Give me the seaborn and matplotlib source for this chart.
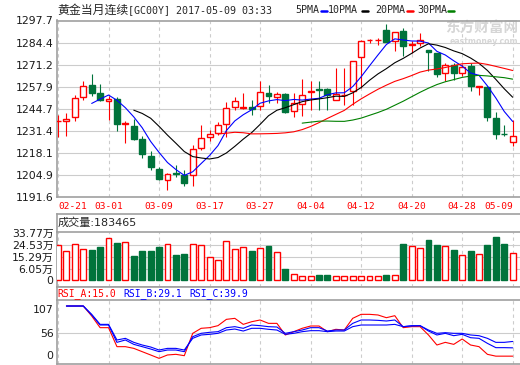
import numpy as np
import pandas as pd
import seaborn as sns
import matplotlib.pyplot as plt
from matplotlib.lines import Line2D

# 黄金当月连续 日K
dates = ['02-21', '03-01', '03-09', '03-17', '03-27', '04-04', '04-12', '04-20', '04-28', '05-09']
opens = [1236.9, 1237.4, 1239.6, 1251.5, 1259.1, 1254.1, 1249.5, 1250.7, 1235.5, 1234.4,
         1226.4, 1216.3, 1208.3, 1201.8, 1205.8, 1204.6, 1204.9, 1221.0, 1227.6, 1230.0,
         1235.4, 1245.7, 1245.3, 1245.7, 1246.0, 1254.1, 1251.7, 1253.7, 1243.0, 1247.7,
         1254.6, 1256.3, 1256.5, 1250.1, 1252.8, 1255.1, 1275.6, 1286.0, 1286.0, 1291.9,
         1285.2, 1291.2, 1283.1, 1284.3, 1280.2, 1278.2, 1266.2, 1270.8, 1265.8, 1270.2,
         1257.9, 1257.9, 1239.0, 1229.6, 1224.5]
highs = [1241.0, 1242.1, 1253.1, 1261.5, 1265.7, 1259.7, 1252.5, 1251.9, 1237.1, 1238.4,
         1228.0, 1218.9, 1209.5, 1205.9, 1210.9, 1207.9, 1222.6, 1235.0, 1232.0, 1236.4,
         1248.4, 1251.7, 1254.1, 1250.1, 1261.5, 1259.1, 1254.7, 1254.1, 1254.1, 1262.6,
         1261.1, 1261.1, 1257.1, 1269.2, 1269.2, 1273.6, 1285.8, 1286.8, 1287.3, 1295.3,
         1290.6, 1293.3, 1285.2, 1290.3, 1280.2, 1278.2, 1272.2, 1272.2, 1271.6, 1272.2,
         1258.5, 1258.1, 1242.8, 1235.0, 1238.0]
lows = [1227.4, 1228.0, 1237.0, 1249.7, 1252.1, 1249.0, 1238.0, 1231.4, 1223.9, 1225.5,
        1214.9, 1207.9, 1201.4, 1195.4, 1203.7, 1197.9, 1197.8, 1219.5, 1224.9, 1229.0,
        1227.6, 1244.0, 1244.5, 1241.0, 1244.0, 1248.1, 1248.1, 1242.1, 1239.5, 1240.0,
        1244.0, 1244.0, 1244.0, 1250.1, 1247.1, 1247.1, 1257.1, 1284.3, 1282.7, 1284.6,
        1279.2, 1276.2, 1278.2, 1282.2, 1267.1, 1263.5, 1261.5, 1262.1, 1264.1, 1255.1,
        1253.1, 1237.0, 1226.3, 1228.4, 1221.9]
closes = [1237.1, 1238.4, 1251.1, 1258.1, 1254.1, 1250.1, 1250.7, 1235.3, 1235.7, 1226.4,
          1217.5, 1209.5, 1202.3, 1205.3, 1205.2, 1199.9, 1220.4, 1227.0, 1229.6, 1235.0,
          1245.1, 1249.5, 1245.6, 1244.5, 1254.7, 1252.1, 1253.5, 1242.4, 1248.1, 1252.8,
          1255.1, 1255.9, 1253.1, 1253.7, 1253.1, 1273.6, 1285.6, 1286.2, 1286.2, 1284.6,
          1290.6, 1282.2, 1283.2, 1285.8, 1278.8, 1265.6, 1271.2, 1265.8, 1269.8, 1258.1,
          1258.5, 1239.4, 1229.4, 1229.2, 1228.0]
# 成交量, 单位: 万
volumes = [24.5, 19.9, 25.3, 21.2, 20.7, 23.0, 29.7, 26.3, 26.6, 16.1,
           19.9, 19.9, 23.0, 25.1, 16.8, 17.6, 25.1, 24.3, 15.1, 12.8,
           27.4, 21.2, 22.8, 19.9, 22.0, 23.8, 19.2, 6.1, 2.0, 0.9,
           0.9, 1.2, 1.2, 0.9, 0.9, 0.9, 0.9, 0.9, 0.9, 1.5,
           1.2, 25.3, 23.5, 22.0, 28.4, 24.5, 23.5, 20.7, 16.6, 19.9,
           17.4, 24.5, 30.7, 25.3, 18.35]
nan = np.nan
rsi_a = [nan, 100, 100, 100, 83.1, 63.3, 63.3, 31.1, 31.1, 28.2, 22.6, 17.0, 11.3, 17.0,
         18.1, 15.8, 53.7, 62.2, 63.3, 66.7, 77.4, 79.1, 68.9, 73.4, 76.3, 70.6, 70.6,
         50.9, 56.5, 62.2, 66.1, 66.1, 56.5, 60.5, 59.3, 79.1, 85.9, 85.9, 84.8, 80.2,
         83.6, 63.3, 65.0, 65.0, 50.9, 33.9, 38.4, 35.0, 44.1, 33.9, 31.1, 18.1, 15.0,
         15.0, 15.0]
rsi_b = [nan, 100, 100, 100, 84.8, 67.8, 67.8, 38.4, 42.4, 35.0, 31.1, 27.1, 22.6, 25.4,
         25.4, 22.6, 48.0, 53.7, 55.4, 56.5, 63.3, 65.0, 62.2, 67.8, 66.7, 65.0, 64.4,
         53.7, 56.5, 59.3, 63.3, 63.3, 57.6, 59.3, 59.3, 70.6, 76.3, 76.3, 75.7, 74.6,
         76.3, 65.0, 66.1, 66.7, 57.6, 50.9, 53.7, 49.7, 52.0, 46.3, 45.2, 36.7, 29.4,
         29.4, 29.1]
rsi_c = [nan, 100, 100, 100, 85.9, 68.9, 68.9, 42.4, 45.2, 38.4, 33.9, 30.5, 25.4, 28.2,
         28.2, 25.4, 45.2, 50.9, 52.0, 53.7, 59.3, 61.0, 57.6, 62.2, 62.2, 60.5, 59.3,
         52.0, 53.7, 56.5, 58.2, 58.2, 56.5, 57.6, 57.6, 65.0, 67.8, 67.8, 67.8, 67.8,
         68.9, 65.0, 66.7, 66.7, 59.3, 53.7, 54.8, 53.7, 53.7, 50.9, 49.7, 45.2, 38.4,
         38.4, 39.9]
price_ticks = [1191.6, 1204.9, 1218.1, 1231.4, 1244.7, 1257.9, 1271.2, 1284.4, 1297.7]
vol_ticks = [6.05, 15.29, 24.53, 33.77]
vol_base = -2.4   # 东财的量柱画到面板底部, "0" 标在这里
rsi_tick_pos = [94.9, 53.7, 16.9]
rsi_tick_labels = ['107', '56', '0']

RED = '#ff0000'
GREEN = '#00733b'
GRID = '#cccccc'
EDGE = '#a0a0a0'
W, H = 520, 365

sns.set_style('white')
plt.rcParams['font.family'] = ['DejaVu Sans', 'Noto Sans CJK SC']

df = pd.DataFrame({'open': opens, 'high': highs, 'low': lows, 'close': closes, 'vol': volumes})
idx = np.arange(len(df))
up = df['close'] >= df['open']
line_col = np.where(up, RED, GREEN)
face_col = np.where(up, 'white', GREEN)

fig = plt.figure(figsize=(W / 100, H / 100), dpi=100)


def panel(top, bottom):
    return fig.add_axes([57 / W, 1 - bottom / H, 1 - 57 / W, (bottom - top) / H])


ax_k = panel(20.5, 196.7)
ax_vh = panel(214, 231.7)
ax_v = panel(231.7, 287.3)
ax_rh = panel(287.3, 300)
ax_r = panel(300, 364)

for ax in [ax_k, ax_vh, ax_v, ax_rh, ax_r]:
    ax.set_xlim(-0.12, 54.87)
    for s in ax.spines.values():
        s.set_color(EDGE)
        s.set_linewidth(1.2)
    ax.spines['right'].set_visible(False)
    ax.tick_params(length=0, pad=2.5, labelsize=7.8, labelcolor='#1a1a1a')
for ax in [ax_vh, ax_rh]:
    ax.spines['bottom'].set_visible(False)
    ax.set_xticks([])
    ax.set_yticks([])

# K线
ax_k.vlines(idx, df['low'], df['high'], colors=line_col, lw=0.8, zorder=2)
body = (df['close'] - df['open']).abs().clip(lower=0.25)
ax_k.bar(idx, body, bottom=df[['open', 'close']].min(axis=1), width=0.7,
         color=face_col, edgecolor=line_col, lw=1.0, zorder=3)

# 均线
for n, c in [(5, '#0000ff'), (10, 'black'), (20, RED), (30, '#008000')]:
    sns.lineplot(x=idx, y=df['close'].rolling(n).mean(), ax=ax_k, color=c, lw=0.8, zorder=4)

ax_k.set_ylim(1191.6, 1297.7)
ax_k.set_yticks(price_ticks, labels=[f'{t:.1f}' for t in price_ticks])
ax_k.set_xticks(range(0, 55, 6), labels=dates)
ax_k.tick_params(axis='x', pad=3.6, labelsize=6.8, labelcolor=RED)
for lbl in ax_k.get_xticklabels():
    lbl.set_fontfamily('DejaVu Sans Mono')
ax_k.get_xticklabels()[0].set_ha('left')
ax_k.get_xticklabels()[-1].set_ha('right')
ax_k.grid(axis='y', color=GRID, lw=0.8)
ax_k.grid(axis='x', color=GRID, lw=0.8, ls=(0, (3, 3)))
ax_k.set(xlabel='', ylabel='')

# 水印
ax_k.text(518 / W, 1 - 28 / H, '东方财富网', transform=fig.transFigure, fontsize=10.5,
          fontweight='bold', color='#d6d6d6', va='center', ha='right',
          family='Noto Sans CJK SC', zorder=1)
ax_k.text(518 / W, 1 - 41 / H, 'eastmoney.com', transform=fig.transFigure, fontsize=5.6,
          fontweight='bold', color='#d6d6d6', va='center', ha='right', zorder=1)

# 成交量
ax_v.bar(idx, df['vol'] - vol_base, bottom=vol_base, width=0.7,
         color=face_col, edgecolor=line_col, lw=1.0, zorder=3)
ax_v.set_ylim(-8.0, 34.8)
ax_v.set_yticks([vol_base] + vol_ticks, labels=['0'] + [f'{t:.2f}万' for t in vol_ticks])
for t in vol_ticks[:-1]:
    ax_v.axhline(t, color=GRID, lw=0.8, zorder=1)
ax_v.set_xticks(range(0, 55, 6), labels=[])
ax_v.grid(axis='x', color=GRID, lw=0.8, ls=(0, (3, 3)))

# RSI
for vals, c in [(rsi_a, RED), (rsi_b, '#0000ff'), (rsi_c, '#0000ff')]:
    sns.lineplot(x=idx, y=vals, ax=ax_r, color=c, lw=0.8, zorder=3)
ax_r.set_ylim(1.7, 110.2)
ax_r.set_yticks(rsi_tick_pos, labels=rsi_tick_labels)
ax_r.axhline(rsi_tick_pos[1], color=GRID, lw=0.8, zorder=1)
ax_r.set_xticks(range(0, 55, 6), labels=[])
ax_r.grid(axis='x', color=GRID, lw=0.8, ls=(0, (3, 3)))
ax_r.set(xlabel='', ylabel='')


def ftext(x, y, s, **kw):
    fig.text(x / W, 1 - y / H, s, va='center', **kw)


# 标题和图例
ftext(57, 10, '黄金当月连续', fontsize=8.6, family='Noto Sans CJK SC')
ftext(128.5, 10, '[GC00Y] 2017-05-09 03:33', fontsize=7.2, family='DejaVu Sans Mono')
legend = [('5PMA', 295, '#0000ff', 321), ('10PMA', 328, 'black', 362),
          ('20PMA', 375, RED, 407), ('30PMA', 417, '#008000', 448)]
for name, x0, c, dx in legend:
    ftext(x0, 10, name, fontsize=7.2, family='DejaVu Sans Mono')
    fig.add_artist(Line2D([dx / W, (dx + 5.5) / W], [1 - 10.5 / H] * 2, color=c, lw=1.8))

ftext(57.5, 223, '成交量:183465', fontsize=8)
ftext(57.3, 293.3, 'RSI_A:15.0', fontsize=7, family='DejaVu Sans Mono', color=RED)
ftext(123.3, 293.3, 'RSI_B:29.1', fontsize=7, family='DejaVu Sans Mono', color='#0000ff')
ftext(189.3, 293.3, 'RSI_C:39.9', fontsize=7, family='DejaVu Sans Mono', color='#0000ff')

fig.savefig('out.png', dpi=100, facecolor='white')
